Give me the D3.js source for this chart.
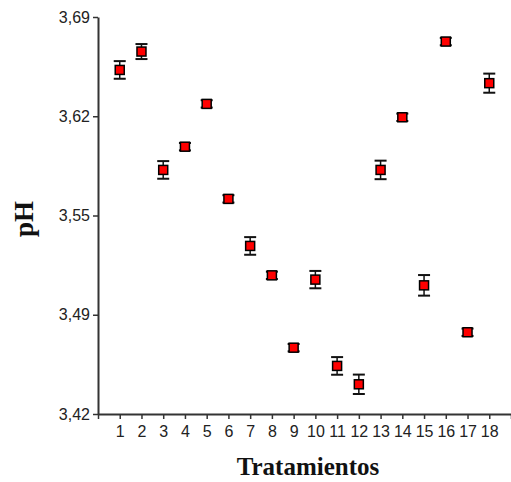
<!DOCTYPE html>
<html>
<head>
<meta charset="utf-8">
<script src="https://cdn.jsdelivr.net/npm/d3@7"></script>
<style>
  html, body { margin: 0; padding: 0; background: #fff; }
  svg { display: block; }
</style>
</head>
<body>
<div id="chart"></div>
<script>
const treatments = [1,2,3,4,5,6,7,8,9,10,11,12,13,14,15,16,17,18];
const phValues = [3.654, 3.6665, 3.586, 3.6018, 3.6309, 3.5663, 3.5343, 3.5143, 3.4651, 3.5114, 3.4527, 3.4402, 3.586, 3.6218, 3.5075, 3.6733, 3.4756, 3.645];
const phErrors = [0.006, 0.0051, 0.006, 0.0025, 0.0025, 0.0025, 0.006, 0.0025, 0.0025, 0.0059, 0.006, 0.0066, 0.0063, 0.0025, 0.007, 0.0025, 0.0025, 0.0065];
const yTickValues = [3.42, 3.4875, 3.555, 3.6225, 3.69];
const yTickLabels = ["3,42", "3,49", "3,55", "3,62", "3,69"];
const xTickValues = d3.range(0, 20);
const xLabel = "Tratamientos";
const yLabel = "pH";

const W = 511, H = 482;
const svg = d3.select("#chart").append("svg").attr("width", W).attr("height", H);

const x = d3.scaleLinear().domain([0, 19]).range([98, 511]);
const y = d3.scaleLinear().domain([3.42, 3.69]).range([414, 17]);

// Y axis
const yAxis = svg.append("g").attr("transform", `translate(${x(0)},0)`)
  .call(d3.axisLeft(y).tickValues(yTickValues).tickSize(5).tickSizeOuter(0)
        .tickFormat((d, i) => yTickLabels[i]));
yAxis.select(".domain").attr("stroke", "#333").attr("stroke-width", 2);
yAxis.selectAll(".tick line").attr("stroke", "#333").attr("stroke-width", 1.5);
yAxis.selectAll(".tick text").attr("font-family", "Arial, 'Liberation Sans', sans-serif")
  .attr("font-size", 16).attr("fill", "#222").attr("x", -8);

// X axis
const xAxis = svg.append("g").attr("transform", `translate(0,${y(3.42)})`)
  .call(d3.axisBottom(x).tickValues(xTickValues).tickSize(5).tickSizeOuter(0)
        .tickFormat(d => treatments.includes(d) ? String(d) : ""));
xAxis.select(".domain").attr("stroke", "#333").attr("stroke-width", 2);
xAxis.selectAll(".tick line").attr("stroke", "#333").attr("stroke-width", 1.5);
xAxis.selectAll(".tick text").attr("font-family", "Arial, 'Liberation Sans', sans-serif")
  .attr("font-size", 16).attr("fill", "#222").attr("dy", "0.95em");

// Error bars
const eb = svg.append("g").selectAll("g").data(treatments).join("g");
eb.append("line")
  .attr("x1", d => x(d)).attr("x2", d => x(d))
  .attr("y1", (d, i) => y(phValues[i] - phErrors[i]))
  .attr("y2", (d, i) => y(phValues[i] + phErrors[i]))
  .attr("stroke", "#111").attr("stroke-width", 1.5);
[-1, 1].forEach(s => {
  eb.append("line")
    .attr("x1", d => x(d) - 6).attr("x2", d => x(d) + 6)
    .attr("y1", (d, i) => y(phValues[i] + s * phErrors[i]))
    .attr("y2", (d, i) => y(phValues[i] + s * phErrors[i]))
    .attr("stroke", "#111").attr("stroke-width", 2);
});

// Markers
svg.append("g").selectAll("rect").data(treatments).join("rect")
  .attr("x", d => x(d) - 4.5)
  .attr("y", (d, i) => y(phValues[i]) - 4.5)
  .attr("width", 9).attr("height", 9)
  .attr("fill", "#ff0000").attr("stroke", "#000").attr("stroke-width", 1.5);

// Axis titles
svg.append("text")
  .attr("x", 308).attr("y", 475)
  .attr("text-anchor", "middle")
  .attr("font-family", "'Liberation Serif', 'Times New Roman', serif")
  .attr("font-weight", "bold").attr("font-size", 25).attr("fill", "#111")
  .text(xLabel);

svg.append("text")
  .attr("transform", "translate(33,219) rotate(-90)")
  .attr("text-anchor", "middle")
  .attr("font-family", "'Liberation Serif', 'Times New Roman', serif")
  .attr("font-weight", "bold").attr("font-size", 27).attr("fill", "#111")
  .text(yLabel);
</script>
</body>
</html>
